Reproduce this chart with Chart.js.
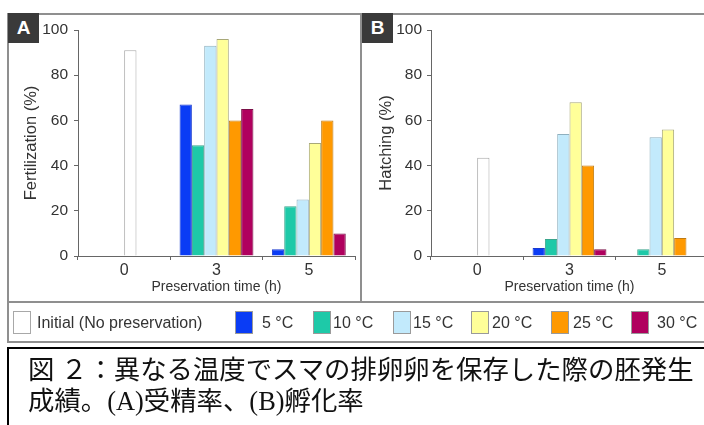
<!DOCTYPE html>
<html>
<head>
<meta charset="utf-8">
<script src="https://cdn.jsdelivr.net/npm/chart.js@4.4.0/dist/chart.umd.min.js"></script>
<style>
    html, body { margin: 0; padding: 0; background: #fff; }
    body { width: 704px; height: 425px; overflow: hidden; position: relative; font-family: "Liberation Sans", Arial, sans-serif; }
    .abs { position: absolute; }
    .rule { position: absolute; background: #8f8f8f; }
    .tag { position: absolute; top: 13px; width: 31px; height: 30px; background: #3a3a3a; color: #fff;
           font: bold 19px "Liberation Sans", Arial, sans-serif; line-height: 30px; text-align: center; }
    .swatch { position: absolute; top: 311px; width: 16px; height: 21px; border: 1px solid #9a9a9a; }
    .ltext { position: absolute; top: 312px; line-height: 22px; font-size: 16px; color: #333; white-space: nowrap; }
    #caption { position: absolute; left: 7px; top: 347px; width: 740px; height: 120px; border: 2px solid #000;
               box-sizing: border-box; padding: 6px 0 0 19px; font-family: "Liberation Serif", "Noto Sans CJK JP", serif;
               font-size: 26.4px; line-height: 31px; color: #111; white-space: nowrap; }
</style>
</head>
<body>
<div class="abs" style="left:8px;top:13px;width:354px;height:289px"><canvas id="chartA"></canvas></div>
<div class="abs" style="left:363px;top:13px;width:355px;height:289px"><canvas id="chartB"></canvas></div>

<div class="rule" style="left:7px;top:13px;width:697px;height:2px"></div>
<div class="rule" style="left:7px;top:13px;width:2px;height:330px"></div>
<div class="rule" style="left:360px;top:13px;width:2px;height:289px"></div>
<div class="rule" style="left:7px;top:301px;width:697px;height:2px"></div>
<div class="rule" style="left:7px;top:341px;width:697px;height:2px"></div>
<div class="tag" style="left:8px">A</div>
<div class="tag" style="left:362px">B</div>

<div id="legend"></div>
<div id="caption">図 ２：異なる温度でスマの排卵卵を保存した際の胚発生<br>成績。(A)受精率、(B)孵化率</div>

<script>
// Categories and tick labels
const categories = ['0', '3', '5'];
const yTicks = [0, 20, 40, 60, 80, 100];
const initialLabel = 'Initial (No preservation)';
const seriesLabels = ['5 °C', '10 °C', '15 °C', '20 °C', '25 °C', '30 °C'];

// (A) Fertilization (%)
const fertInitial = [91, null, null];
const fert5 = [null, 67, 3];
const fert10 = [null, 49, 22];
const fert15 = [null, 93, 25];
const fert20 = [null, 96, 50];
const fert25 = [null, 60, 60];
const fert30 = [null, 65, 10];

// (B) Hatching (%)
const hatchInitial = [43.5, null, null];
const hatch5 = [null, 3.5, null];
const hatch10 = [null, 7.5, 3];
const hatch15 = [null, 54, 52.5];
const hatch20 = [null, 68, 56];
const hatch25 = [null, 40, 8];
const hatch30 = [null, 3, null];

// Colours
const initialColor = '#ffffff';
const initialBorder = '#a8a8a8';
const seriesColors = ['#0a3cf5', '#1ec9a8', '#c2eafc', '#ffff99', '#ff9900', '#b0005e'];
const seriesBorders = ['#1a3ad0', '#3aa58c', '#8fb0bf', '#a8a878', '#c07a10', '#7a1048'];

// Legend layout (px)
const legendSwatchX = [13, 235, 313, 393, 471, 551, 631];
const legendTextX = [37, 262, 333, 413, 492, 573, 657];

Chart.defaults.font.family = '"Liberation Sans", Arial, sans-serif';
Chart.defaults.color = '#333';

function buildDatasets(initial, series) {
    const sets = series.map((data, i) => ({
        label: seriesLabels[i],
        data: data,
        stack: 's' + i,
        backgroundColor: seriesColors[i],
        borderColor: seriesBorders[i],
        borderWidth: 1
    }));
    // Initial bar sits in the 20 °C slot, as in the original figure
    sets.push({
        label: initialLabel,
        data: initial,
        stack: 's3',
        backgroundColor: initialColor,
        borderColor: initialBorder,
        borderWidth: 1
    });
    return sets;
}

function makeChart(id, title, initial, series, axisWidth, tickPad, rightPad) {
    const ctx = document.getElementById(id).getContext('2d');
    return new Chart(ctx, {
        type: 'bar',
        data: {
            labels: categories,
            datasets: buildDatasets(initial, series)
        },
        options: {
            responsive: true,
            maintainAspectRatio: false,
            animation: false,
            layout: { padding: { left: 0, top: 17, right: rightPad, bottom: 0 } },
            datasets: { bar: { categoryPercentage: 0.8, barPercentage: 1.0 } },
            plugins: { legend: { display: false }, tooltip: { enabled: false } },
            scales: {
                x: {
                    stacked: true,
                    offset: true,
                    grid: { offset: true, drawOnChartArea: false, drawTicks: true, tickLength: 4, color: '#666' },
                    border: { color: '#666', width: 1 },
                    ticks: { color: '#333', font: { size: 16 }, padding: 1 },
                    title: {
                        display: true,
                        text: 'Preservation time (h)',
                        color: '#333',
                        font: { size: 14 },
                        padding: { top: 0, bottom: 6 }
                    },
                    afterFit: function(scale) { scale.height = 46; }
                },
                y: {
                    stacked: true,
                    min: 0,
                    max: 100,
                    afterBuildTicks: function(scale) { scale.ticks = yTicks.map(v => ({ value: v })); },
                    grid: { drawOnChartArea: false, drawTicks: true, tickLength: 4, color: '#666' },
                    border: { color: '#666', width: 1 },
                    ticks: { color: '#333', font: { size: 15.5 }, padding: tickPad },
                    title: {
                        display: true,
                        text: title,
                        color: '#333',
                        font: { size: 16.5 },
                        padding: { top: 14, bottom: 0 }
                    },
                    afterFit: function(scale) { scale.width = axisWidth; }
                }
            }
        }
    });
}

makeChart('chartA', 'Fertilization (%)', fertInitial,
    [fert5, fert10, fert15, fert20, fert25, fert30], 70, 6, 7);
makeChart('chartB', 'Hatching (%)', hatchInitial,
    [hatch5, hatch10, hatch15, hatch20, hatch25, hatch30], 68, 5, 10);

// Shared legend row
const legend = document.getElementById('legend');
const legendLabels = [initialLabel].concat(seriesLabels);
const legendFill = [initialColor].concat(seriesColors);
const legendEdge = [initialBorder].concat(seriesBorders.map(() => '#9a9a9a'));
legendLabels.forEach((label, i) => {
    const sw = document.createElement('div');
    sw.className = 'swatch';
    sw.style.left = legendSwatchX[i] + 'px';
    sw.style.background = legendFill[i];
    sw.style.borderColor = legendEdge[i];
    legend.appendChild(sw);

    const tx = document.createElement('div');
    tx.className = 'ltext';
    tx.style.left = legendTextX[i] + 'px';
    tx.textContent = label;
    legend.appendChild(tx);
});
</script>
</body>
</html>
